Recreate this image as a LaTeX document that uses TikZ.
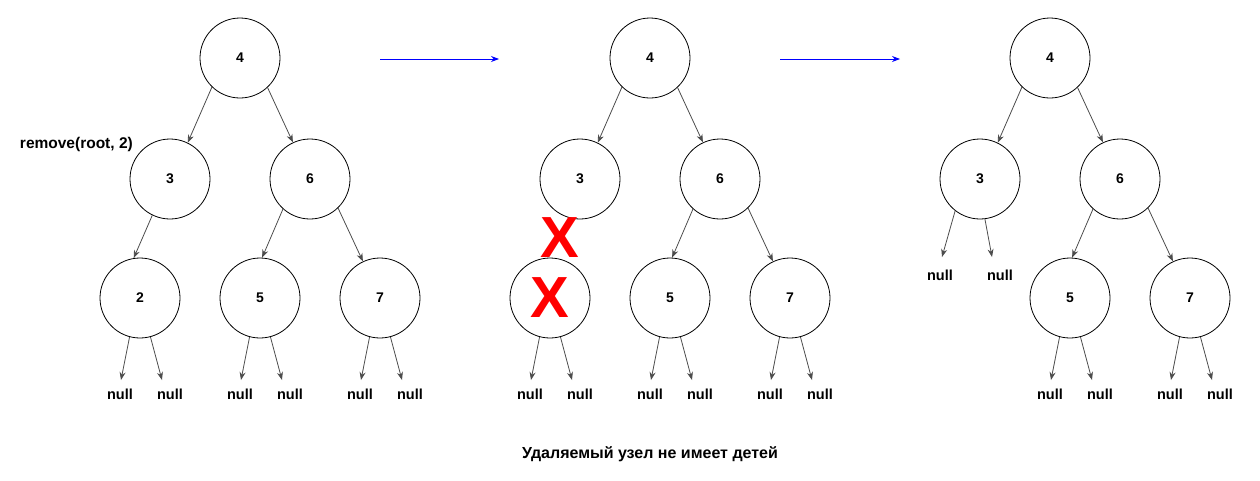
\documentclass[tikz,border=0pt]{standalone}
\usepackage{fontspec}
\setmainfont{Liberation Sans}
\usetikzlibrary{arrows.meta}

\tikzset{
  vertex/.style={draw, circle, line width=0.8pt, minimum size=80pt, inner sep=0pt, font=\bfseries\fontsize{14}{16}\selectfont},
  nulltext/.style={inner sep=0pt, font=\bfseries\fontsize{14.5}{16}\selectfont},
  edge/.style={-{Stealth[length=8pt,width=6pt]}, line width=0.8pt, black!70},
  stepline/.style={-{Stealth[length=8pt,width=6pt]}, line width=0.8pt, blue},
  cross/.style={inner sep=0pt, text=red, font=\bfseries\fontsize{58}{60}\selectfont},
}

\begin{document}
\begin{tikzpicture}[x=1pt, y=-1pt]
    \useasboundingbox (0,0) rectangle (1260,480);

    % Tree before removal
    \node[vertex] (a4) at (240,58) {4};
    \node[vertex] (a3) at (170,179) {3};
    \node[vertex] (a6) at (310,179) {6};
    \node[vertex] (a2) at (140,298) {2};
    \node[vertex] (a5) at (260,298) {5};
    \node[vertex] (a7) at (380,298) {7};
    \node[anchor=east, inner sep=0pt, font=\bfseries\fontsize{15.5}{17}\selectfont] (call) at (133,144) {remove(root, 2)};

    \draw[edge] (a4.226) -- (a3.64);
    \draw[edge] (a4.313) -- (a6.115);
    \draw[edge] (a3.244) -- (a2.99);
    \draw[edge] (a6.228) -- (a5.87);
    \draw[edge] (a6.314) -- (a7.115);

    % Tree with the leaf crossed out
    \node[vertex] (b4) at (650,58) {4};
    \node[vertex] (b3) at (580,179) {3};
    \node[vertex] (b6) at (720,179) {6};
    \node[vertex] (b2) at (550,298) {};
    \node[vertex] (b5) at (670,298) {5};
    \node[vertex] (b7) at (790,298) {7};
    \node[cross] (cut) at (560,238) {X};
    \node[cross] (gone) at (b2) {X};

    \draw[edge] (b4.226) -- (b3.64);
    \draw[edge] (b4.313) -- (b6.115);
    \draw[edge] (b6.228) -- (b5.87);
    \draw[edge] (b6.314) -- (b7.115);

    % Tree after removal
    \node[vertex] (c4) at (1050,58) {4};
    \node[vertex] (c3) at (980,179) {3};
    \node[vertex] (c6) at (1120,179) {6};
    \node[vertex] (c5) at (1070,298) {5};
    \node[vertex] (c7) at (1190,298) {7};

    \draw[edge] (c4.226) -- (c3.64);
    \draw[edge] (c4.313) -- (c6.115);
    \draw[edge] (c6.228) -- (c5.87);
    \draw[edge] (c6.314) -- (c7.115);

    \node[nulltext] (c3l) at (940,275) {null};
    \node[nulltext] (c3r) at (1000,275) {null};
    \draw[edge] (c3.232) -- ([xshift=2,yshift=18]c3l.center);
    \draw[edge] (c3.277) -- ([xshift=-8,yshift=18]c3r.center);

    % null children of the leaves
    \foreach \p in {a2,a5,a7,b2,b5,b7,c5,c7} {
      \node[nulltext] (\p l) at ([xshift=-20,yshift=-96]\p.center) {null};
      \node[nulltext] (\p r) at ([xshift=30,yshift=-96]\p.center) {null};
      \draw[edge] (\p.255) -- ([xshift=1,yshift=14]\p l.center);
      \draw[edge] (\p.285) -- ([xshift=-8,yshift=14]\p r.center);
    }

    % Steps
    \coordinate (s1) at (380,59);
    \coordinate (e1) at (499,59);
    \coordinate (s2) at (780,59);
    \coordinate (e2) at (900,59);
    \draw[stepline] (s1) -- (e1);
    \draw[stepline] (s2) -- (e2);

    \node[inner sep=0pt, font=\bfseries\fontsize{16}{18}\selectfont] (caption) at (650,454) {Удаляемый узел не имеет детей};

\end{tikzpicture}
\end{document}
